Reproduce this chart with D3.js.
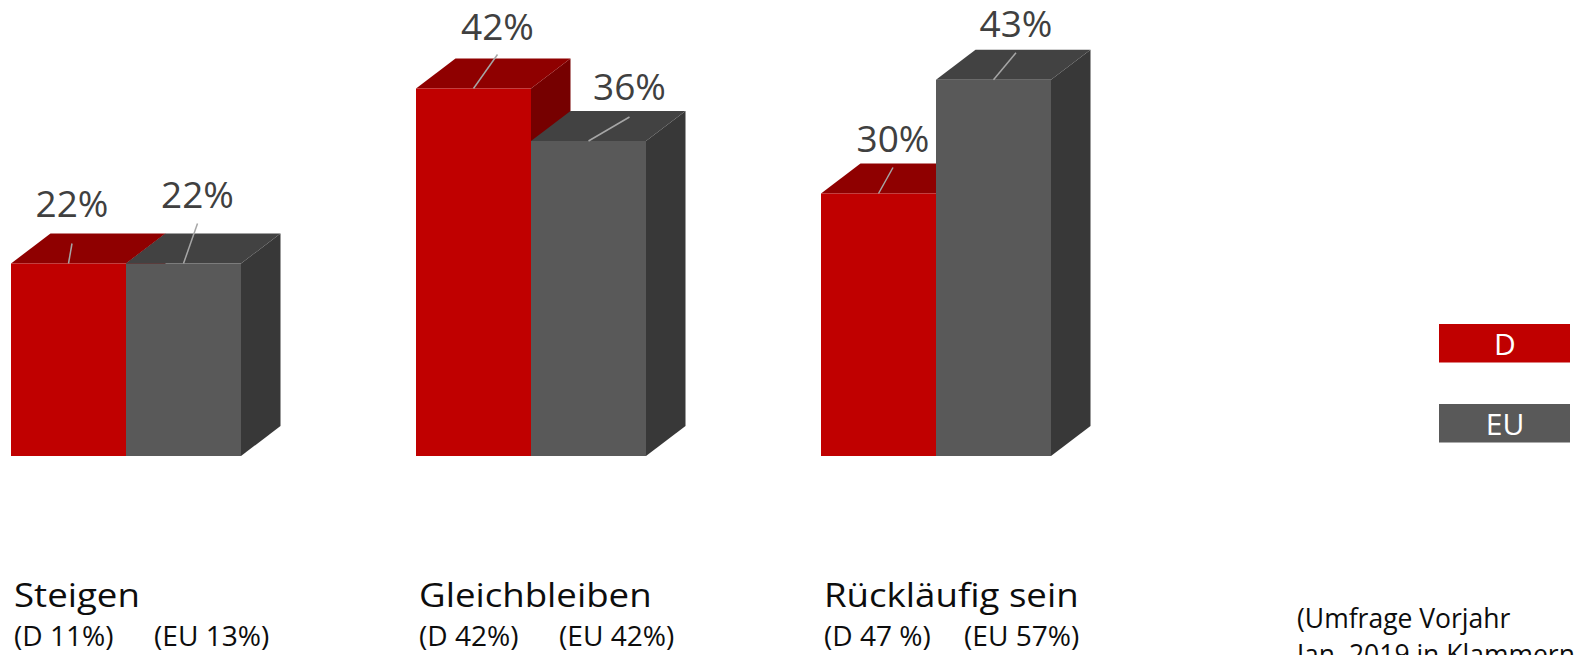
<!DOCTYPE html>
<html lang="de">
<head>
<meta charset="UTF-8">
<title>Umfrage</title>
<script src="https://cdn.jsdelivr.net/npm/d3@7"></script>
<style>
  body { margin: 0; background: #fff; }
  svg { display: block; font-family: "Open Sans", sans-serif; }
</style>
</head>
<body>
<script>
// data
var categories = ["Steigen", "Gleichbleiben", "Rückläufig sein"];
var series = ["D", "EU"];
var valuesD = [22, 42, 30];
var valuesEU = [22, 36, 43];
var priorD = ["(D 11%)", "(D 42%)", "(D 47 %)"];
var priorEU = ["(EU 13%)", "(EU 42%)", "(EU 57%)"];
var noteLines = ["(Umfrage Vorjahr", "Jan. 2019 in Klammern)"];

// layout
var width = 1574, height = 655;
var baseY = 456;
var depthX = 39.5, depthY = 30;
// label offset per bar: [dx from bar centre, baseline above bar top, leader start above bar top]
var labelOffsets = [[3.5, 47, 20], [14, 56, 40], [24, 49, 34], [41, 41, 24], [14.5, 42, 26], [22.5, 43, 27]];

var colors = {
  D:  { front: "#c00000", top: "#8f0000", side: "#760000" },
  EU: { front: "#595959", top: "#424242", side: "#383838" }
};

var svg = d3.select("body").append("svg")
    .attr("width", width)
    .attr("height", height);

var x0 = d3.scaleBand().domain(categories).range([11, 1051]).paddingInner(1 - 230 / 405).paddingOuter(0);
var x1 = d3.scaleBand().domain(series).range([0, x0.bandwidth()]);
var y = d3.scaleLinear().domain([0, 50]).range([baseY, baseY - 8.75 * 50]);

var bars = [];
categories.forEach(function(c, i) {
  bars.push({ cat: c, s: "D", v: valuesD[i] });
  bars.push({ cat: c, s: "EU", v: valuesEU[i] });
});

// bars (D drawn first so EU covers its side face)
var g = svg.selectAll("g.bar")
    .data(bars)
    .enter().append("g")
    .attr("class", "bar");

g.each(function(d) {
  var x = x0(d.cat) + x1(d.s), w = x1.bandwidth(), top = y(d.v);
  var el = d3.select(this);
  // side
  el.append("path")
      .attr("fill", colors[d.s].side)
      .attr("d", "M" + (x + w) + "," + baseY + "L" + (x + w + depthX) + "," + (baseY - depthY) +
        "L" + (x + w + depthX) + "," + (top - depthY) + "L" + (x + w) + "," + top + "Z");
  // top
  el.append("path")
      .attr("fill", colors[d.s].top)
      .attr("d", "M" + x + "," + top + "L" + (x + depthX) + "," + (top - depthY) +
        "L" + (x + w + depthX) + "," + (top - depthY) + "L" + (x + w) + "," + top + "Z");
  // front
  el.append("rect")
      .attr("x", x).attr("y", top)
      .attr("width", w).attr("height", baseY - top)
      .attr("fill", colors[d.s].front);
});

// value labels + leader lines
bars.forEach(function(d, i) {
  var cx = x0(d.cat) + x1(d.s) + x1.bandwidth() / 2, top = y(d.v), o = labelOffsets[i];
  svg.append("line")
      .attr("x1", cx + o[0]).attr("y1", top - o[2])
      .attr("x2", cx).attr("y2", top)
      .attr("stroke", "#a6a6a6").attr("stroke-width", 1.5);
  svg.append("text")
      .attr("x", cx + o[0]).attr("y", top - o[1])
      .attr("text-anchor", "middle")
      .attr("font-size", 37)
      .attr("fill", "#404040")
      .text(d.v + "%");
});

// category names and last year's values
categories.forEach(function(c, i) {
  var x = x0(c) + 3;
  svg.append("text")
      .attr("transform", "translate(" + x + ",607) scale(1.11,1)")
      .attr("font-size", 33)
      .attr("fill", "#0d0d0d")
      .text(c);
  svg.append("text")
      .attr("transform", "translate(" + x + ",646) scale(1.06,1)")
      .attr("font-size", 26.5)
      .attr("fill", "#0d0d0d")
      .text(priorD[i]);
  svg.append("text")
      .attr("transform", "translate(" + (x + 140) + ",646) scale(1.06,1)")
      .attr("font-size", 26.5)
      .attr("fill", "#0d0d0d")
      .text(priorEU[i]);
});

// legend
var legend = svg.selectAll("g.legend")
    .data(series)
    .enter().append("g")
    .attr("class", "legend")
    .attr("transform", function(d, i) { return "translate(1439," + (324 + i * 80) + ")"; });
legend.append("rect")
    .attr("width", 131).attr("height", 38.5)
    .attr("fill", function(d) { return colors[d].front; });
legend.append("text")
    .attr("x", 66).attr("y", 30.5)
    .attr("text-anchor", "middle")
    .attr("font-size", 30)
    .attr("fill", "#fff")
    .text(function(d) { return d; });

// note
svg.selectAll("text.note")
    .data(noteLines)
    .enter().append("text")
    .attr("class", "note")
    .attr("x", 1297)
    .attr("y", function(d, i) { return 628 + i * 36; })
    .attr("font-size", 26.5)
    .attr("fill", "#0d0d0d")
    .text(function(d) { return d; });
</script>
</body>
</html>
